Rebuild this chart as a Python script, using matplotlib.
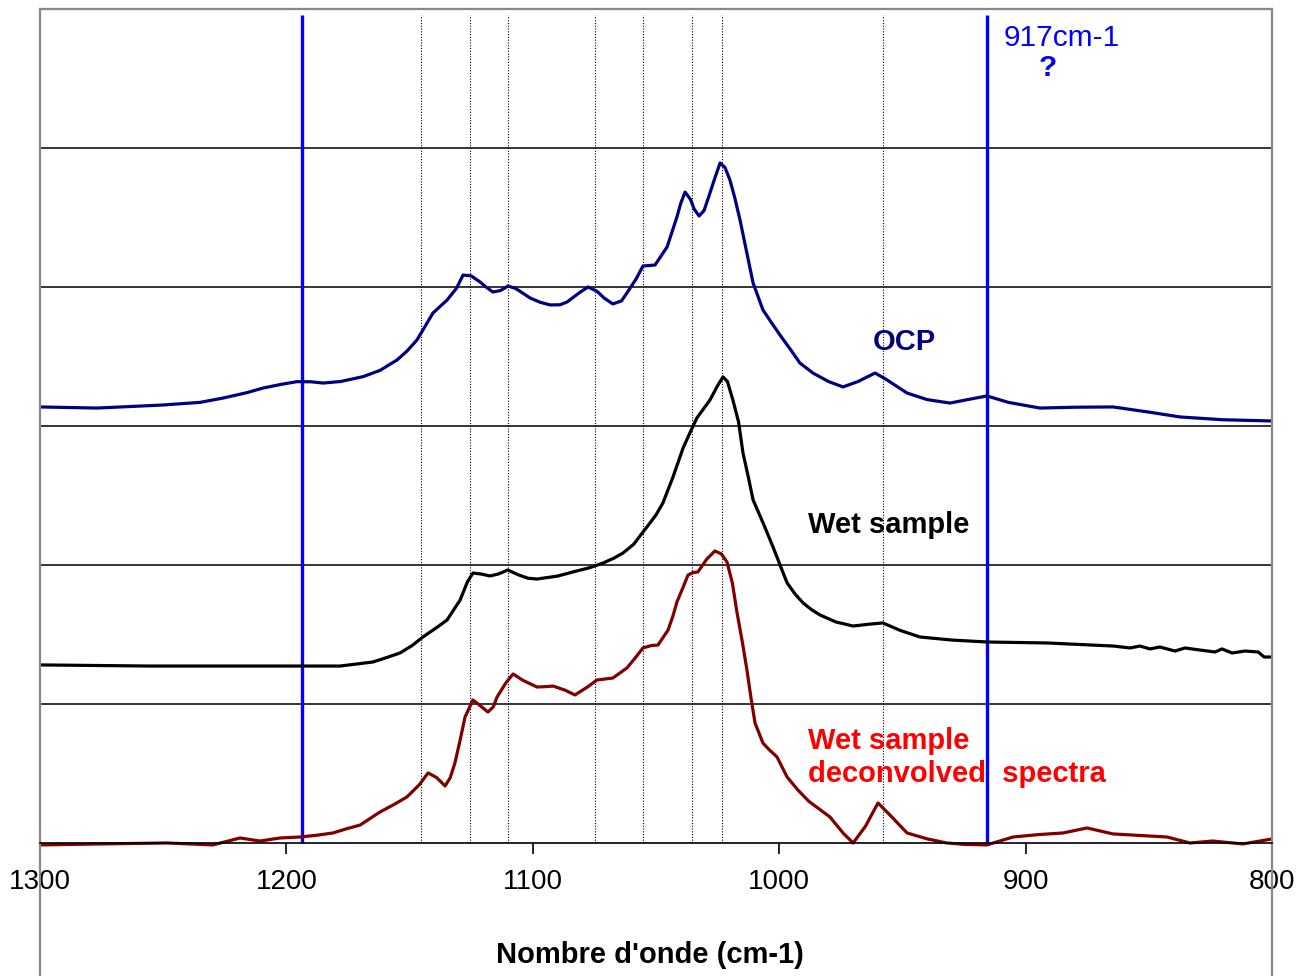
import matplotlib
matplotlib.use("Agg")
import matplotlib.pyplot as plt

plt.rcParams['font.family'] = ['Liberation Sans', 'DejaVu Sans']

# OCP spectrum (offset stack, top)
ocp_wn = [1300, 1276.9, 1250.1, 1235, 1225.7, 1216, 1209.5, 1202, 1195.7, 1190,
          1185.1, 1178, 1168.9, 1162, 1155.1, 1151, 1147.0, 1140.5, 1134.8, 1131,
          1128.3, 1125, 1121.4, 1119, 1116.2, 1113, 1110.1, 1107, 1101.1, 1097,
          1093.0, 1089, 1086.1, 1081, 1077.6, 1074, 1071, 1067.5, 1064, 1061.8,
          1058, 1055.3, 1050.4, 1045.5, 1041.5, 1040, 1038.2, 1036, 1034.5, 1032.5,
          1030.5, 1028.1, 1026, 1024.0, 1022, 1020.0, 1018, 1015.9, 1010.6, 1006.6,
          1003, 999.7, 995, 991.6, 986.3, 980, 974.1, 968, 961.1, 957,
          948.1, 940, 930.7, 922, 915.7, 907, 894.2, 880, 864.5, 850,
          837.3, 820, 800]
ocp_y = [3.137, 3.129, 3.151, 3.170, 3.201, 3.240, 3.273, 3.300, 3.319, 3.318,
         3.309, 3.320, 3.355, 3.400, 3.475, 3.540, 3.619, 3.813, 3.906, 3.990,
         4.086, 4.080, 4.036, 4.000, 3.964, 3.975, 4.007, 3.990, 3.921, 3.890,
         3.871, 3.872, 3.892, 3.960, 4.000, 3.970, 3.920, 3.878, 3.900, 3.957,
         4.060, 4.151, 4.158, 4.288, 4.504, 4.600, 4.683, 4.630, 4.560, 4.511,
         4.550, 4.676, 4.790, 4.892, 4.860, 4.770, 4.640, 4.482, 4.029, 3.835,
         3.740, 3.655, 3.540, 3.453, 3.381, 3.320, 3.281, 3.320, 3.381, 3.340,
         3.237, 3.190, 3.165, 3.195, 3.216, 3.170, 3.129, 3.135, 3.137, 3.100,
         3.065, 3.045, 3.036]

# Wet sample spectrum (middle)
wet_wn = [1300, 1255.4, 1194.5, 1178.2, 1164.9, 1160, 1153.9, 1149, 1144.6, 1139,
          1134.8, 1129.5, 1126.5, 1124.3, 1121, 1117.4, 1114, 1110.1, 1106, 1102,
          1098.3, 1090, 1083.7, 1077, 1071.5, 1067, 1063.4, 1059, 1055.3, 1053.7,
          1050, 1047.2, 1043.1, 1039.0, 1036, 1033.4, 1028.1, 1025, 1022.8, 1021,
          1018.8, 1016.5, 1014.7, 1012.5, 1010.6, 1006, 1002.5, 996.8, 993.5, 990.3,
          987, 983.4, 977, 970.0, 963, 957.9, 951, 942.9, 930, 915.7,
          891.3, 864.5, 857.6, 853.6, 849.5, 845.5, 839.4, 835.3, 829.2, 823.1,
          820.3, 816.2, 810.9, 805.6, 803.2, 800]
wet_y = [1.281, 1.273, 1.273, 1.273, 1.302, 1.330, 1.367, 1.420, 1.482, 1.550,
         1.604, 1.748, 1.880, 1.942, 1.935, 1.921, 1.935, 1.964, 1.930, 1.905,
         1.899, 1.920, 1.950, 1.980, 2.014, 2.050, 2.086, 2.150, 2.237, 2.273,
         2.360, 2.446, 2.633, 2.842, 2.960, 3.058, 3.187, 3.290, 3.353, 3.320,
         3.187, 3.030, 2.806, 2.630, 2.468, 2.280, 2.129, 1.871, 1.790, 1.727,
         1.680, 1.640, 1.590, 1.561, 1.575, 1.583, 1.530, 1.482, 1.460, 1.446,
         1.439, 1.417, 1.403, 1.417, 1.396, 1.410, 1.381, 1.403, 1.388, 1.374,
         1.396, 1.367, 1.381, 1.374, 1.338, 1.338]

# Wet sample deconvolved spectrum (bottom)
dec_wn = [1300, 1275.6, 1248.5, 1229.8, 1218.8, 1210.7, 1202.6, 1194.5, 1188, 1181.1,
          1176, 1170.1, 1162.0, 1156, 1151.1, 1146, 1142.5, 1139, 1135.6, 1133.5,
          1131.6, 1129.5, 1127.5, 1124.3, 1121.5, 1118.2, 1116, 1114.5, 1111, 1108.0,
          1104, 1098.3, 1094.5, 1091.8, 1087, 1082.9, 1078, 1073.9, 1070.5, 1067.5,
          1061.8, 1058.5, 1055.3, 1052, 1049.2, 1045.1, 1043, 1041.5, 1039, 1037.0,
          1035, 1033.0, 1029.5, 1026.1, 1023.5, 1021.2, 1019, 1017.1, 1015, 1013.1,
          1011.5, 1009.8, 1006.6, 1004, 1000.9, 996.8, 992.4, 988, 979.4, 974,
          970.0, 965, 959.9, 955, 948.1, 940, 932.0, 925, 915.7, 905.1,
          895, 884.8, 875.1, 864.5, 842.6, 833.3, 824.0, 811.8, 800]
dec_y = [-0.014, -0.007, 0.000, -0.014, 0.036, 0.014, 0.036, 0.043, 0.055, 0.072,
         0.100, 0.129, 0.223, 0.280, 0.331, 0.420, 0.504, 0.470, 0.410, 0.470,
         0.576, 0.740, 0.906, 1.029, 0.990, 0.942, 0.980, 1.050, 1.150, 1.216,
         1.170, 1.122, 1.125, 1.129, 1.100, 1.065, 1.120, 1.173, 1.180, 1.187,
         1.259, 1.330, 1.403, 1.420, 1.424, 1.532, 1.640, 1.734, 1.840, 1.928,
         1.945, 1.950, 2.040, 2.101, 2.080, 2.022, 1.870, 1.655, 1.450, 1.245,
         1.050, 0.863, 0.719, 0.670, 0.619, 0.475, 0.381, 0.300, 0.187, 0.070,
         0.000, 0.120, 0.288, 0.200, 0.072, 0.030, 0.000, -0.010, -0.014, 0.043,
         0.060, 0.072, 0.108, 0.065, 0.043, 0.000, 0.014, -0.007, 0.029]

# reference band positions
dotted_wn = [1145.3, 1125.5, 1110.2, 1074.8, 1055.2, 1035.4, 1023.3, 957.9]
blue_wn = [1193.7, 915.7]
x_ticks = [1300, 1200, 1100, 1000, 900, 800]

fig = plt.figure(figsize=(13.05, 9.76), dpi=100)
ax = fig.add_axes([40 / 1305, 0, 1232 / 1305, 967 / 976])

ax.set_xlim(1300, 800)
ax.set_ylim(-0.957, 6.0)

ax.set_yticks([1, 2, 3, 4, 5])
ax.yaxis.grid(True, color='black', linewidth=1.1)
ax.tick_params(axis='y', length=0, labelleft=False)

for s in ['left', 'right', 'top']:
    ax.spines[s].set_color('#888888')
    ax.spines[s].set_linewidth(1.6)
ax.spines['bottom'].set_position(('data', 0))
ax.spines['bottom'].set_color('black')
ax.spines['bottom'].set_linewidth(1.2)

ax.set_xticks(x_ticks)
ax.set_xticklabels([str(t) for t in x_ticks])
ax.tick_params(axis='x', direction='out', length=8, width=1.2, labelsize=20, pad=11)

ax.vlines(dotted_wn, 0, 5.96, colors='black', linewidth=0.8, linestyles=(0, (1, 1.5)))
ax.vlines(blue_wn, 0, 5.96, colors='#0000FF', linewidth=2.4)

line_kw = dict(linewidth=2.3, solid_joinstyle='round', solid_capstyle='round')
ax.plot(ocp_wn, ocp_y, color='#000080', **line_kw)
ax.plot(wet_wn, wet_y, color='black', **line_kw)
ax.plot(dec_wn, dec_y, color='#800000', **line_kw)

ax.text(961.9, 3.604, 'OCP', color='#000080', fontsize=21, fontweight='bold', va='center', ha='left')
ax.text(988.3, 2.288, 'Wet sample', color='black', fontsize=21, fontweight='bold', va='center', ha='left')
ax.text(988.3, 0.615, 'Wet sample\ndeconvolved  spectra', color='#FF0000', fontsize=21,
        fontweight='bold', va='center', ha='left', linespacing=1.2)
ax.text(908.8, 5.791, '917cm-1', color='#0000FF', fontsize=21.5, va='center', ha='left')
ax.text(890.9, 5.576, '?', color='#0000FF', fontsize=21.5, fontweight='bold', va='center', ha='center')

fig.text(650 / 1305, 1 - 955 / 976, "Nombre d'onde (cm-1)", fontsize=21, fontweight='bold',
         ha='center', va='center')

fig.savefig('out.png', dpi=100)
